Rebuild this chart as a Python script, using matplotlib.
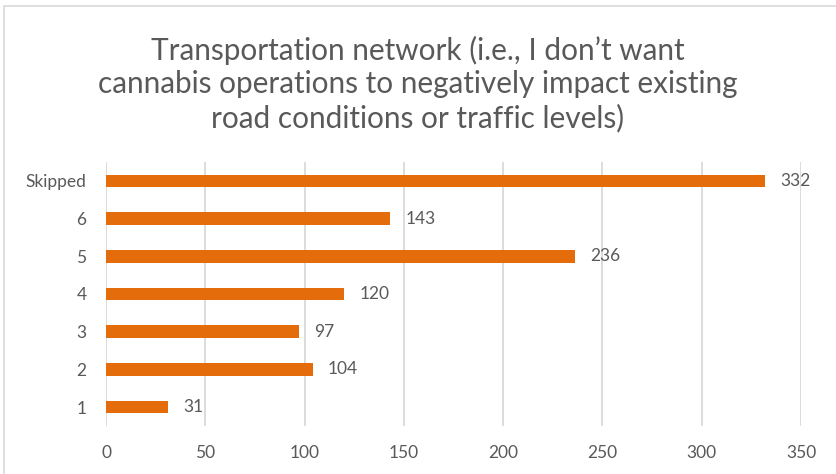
import numpy as np
import matplotlib.pyplot as plt
from matplotlib.patches import Rectangle

# Survey responses, bottom to top
categories = ['1', '2', '3', '4', '5', '6', 'Skipped']
counts = [31, 104, 97, 120, 236, 143, 332]
x_ticks = [0, 50, 100, 150, 200, 250, 300, 350]

title = ("Transportation network (i.e., I don\u2019t want\n"
         "cannabis operations to negatively impact existing\n"
         "road conditions or traffic levels)")

bar_color = '#E46C0A'
text_color = '#595959'

plt.rcParams['font.family'] = ['Lato', 'DejaVu Sans']

fig = plt.figure(figsize=(8.36, 4.74), dpi=100)
ax = fig.add_axes([106 / 836, 1 - 426 / 474, 695 / 836, 264 / 474])

y = np.arange(len(categories))
ax.barh(y, counts, height=0.33, color=bar_color, zorder=3)

for yi, v in zip(y, counts):
    ax.annotate(str(v), (v, yi), xytext=(11, 0), textcoords='offset points',
                va='center', ha='left', fontsize=12.5, color=text_color)

ax.set_xlim(0, 350)
ax.set_ylim(-0.5, len(categories) - 0.5)
ax.set_xticks(x_ticks)
ax.set_yticks(y)
ax.set_yticklabels(categories)
ax.tick_params(axis='both', length=0, labelsize=12.5, colors=text_color)
ax.tick_params(axis='x', pad=14)
ax.tick_params(axis='y', pad=14)
ax.grid(axis='x', color='#D9D9D9', linewidth=1.3, zorder=0)
for s in ax.spines.values():
    s.set_visible(False)

fig.text(0.5, 1 - 84 / 474, title, ha='center', va='center', fontsize=21.4,
         color=text_color, linespacing=1.22)

# chart border
fig.patches.append(Rectangle((4 / 836, -0.02), 1.0, 1 - 6 / 474 + 0.02,
                             transform=fig.transFigure, fill=False,
                             edgecolor='#D9D9D9', linewidth=1.2))

fig.savefig('out.png', dpi=100)
